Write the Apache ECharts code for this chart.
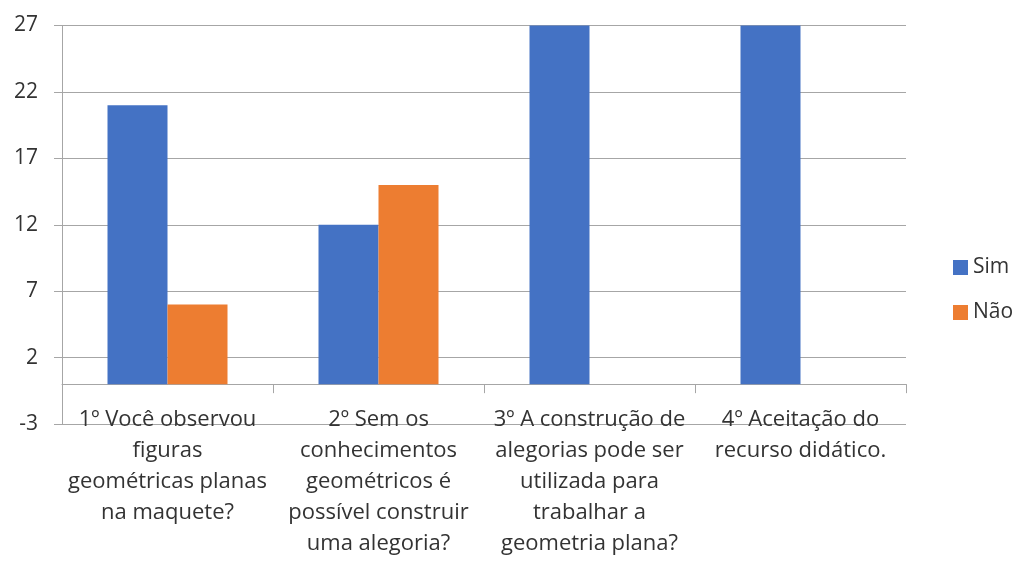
<!DOCTYPE html>
<html>
<head>
<meta charset="utf-8">
<script src="https://cdn.jsdelivr.net/npm/echarts@6/dist/echarts.min.js"></script>
<style>
html,body{margin:0;padding:0;background:#fff;}
#chart{width:1016px;height:563px;}
</style>
</head>
<body>
<div id="chart"></div>
<script>
var categories = [
  "1º Você observou\nfiguras\ngeométricas planas\nna maquete?",
  "2º Sem os\nconhecimentos\ngeométricos é\npossível construir\numa alegoria?",
  "3º A construção de\nalegorias pode ser\nutilizada para\ntrabalhar a\ngeometria plana?",
  "4º Aceitação do\nrecurso didático."
];
var simValues = [21, 12, 27, 27];
var naoValues = [6, 15, 0, 0];
var yTickLabels = ["-3", "2", "7", "12", "17", "22", "27"];

var FONT = "'Open Sans', Lato, sans-serif";
var TEXT = '#333333';
var chart = echarts.init(document.getElementById('chart'));
chart.setOption({
  animation: false,
  textStyle: { fontFamily: FONT },
  grid: { left: 62, right: 110, top: 25.5, bottom: 139, outerBoundsMode: 'none', containLabel: false },
  legend: {
    orient: 'vertical',
    left: 948,
    top: 252,
    itemWidth: 15,
    itemHeight: 15,
    itemGap: 24,
    icon: 'rect',
    textStyle: { fontSize: 21, color: TEXT, fontFamily: FONT },
    data: ['Sim', 'Não']
  },
  xAxis: {
    type: 'category',
    data: categories,
    axisLine: { onZero: true, onZeroAxisIndex: 1, lineStyle: { color: '#A6A6A6', width: 1 } },
    axisTick: { show: true, length: 9, lineStyle: { color: '#A6A6A6' } },
    axisLabel: {
      interval: 0,
      margin: -20,
      fontSize: 22,
      lineHeight: 31,
      color: TEXT,
      fontFamily: FONT,
      verticalAlign: 'top'
    },
    splitLine: { show: false }
  },
  yAxis: [
    {
      type: 'value',
      min: 0,
      max: 30,
      interval: 5,
      axisLine: { show: true, lineStyle: { color: '#A6A6A6' } },
      axisTick: { show: true, length: 8, lineStyle: { color: '#A6A6A6' } },
      axisLabel: {
        margin: 24,
        fontSize: 21,
        color: TEXT,
        fontFamily: FONT,
        formatter: function (v, i) { return yTickLabels[i]; }
      },
      splitLine: { show: true, lineStyle: { color: '#A6A6A6', width: 1 } }
    },
    {
      type: 'value',
      min: -3,
      max: 27,
      show: false,
      splitLine: { show: false }
    }
  ],
  series: [
    {
      name: 'Sim',
      type: 'bar',
      yAxisIndex: 1,
      data: simValues,
      barWidth: 60,
      barGap: '0%',
      itemStyle: { color: '#4472C4' }
    },
    {
      name: 'Não',
      type: 'bar',
      yAxisIndex: 1,
      data: naoValues,
      barWidth: 60,
      barGap: '0%',
      itemStyle: { color: '#ED7D31' }
    }
  ]
});
</script>
</body>
</html>
